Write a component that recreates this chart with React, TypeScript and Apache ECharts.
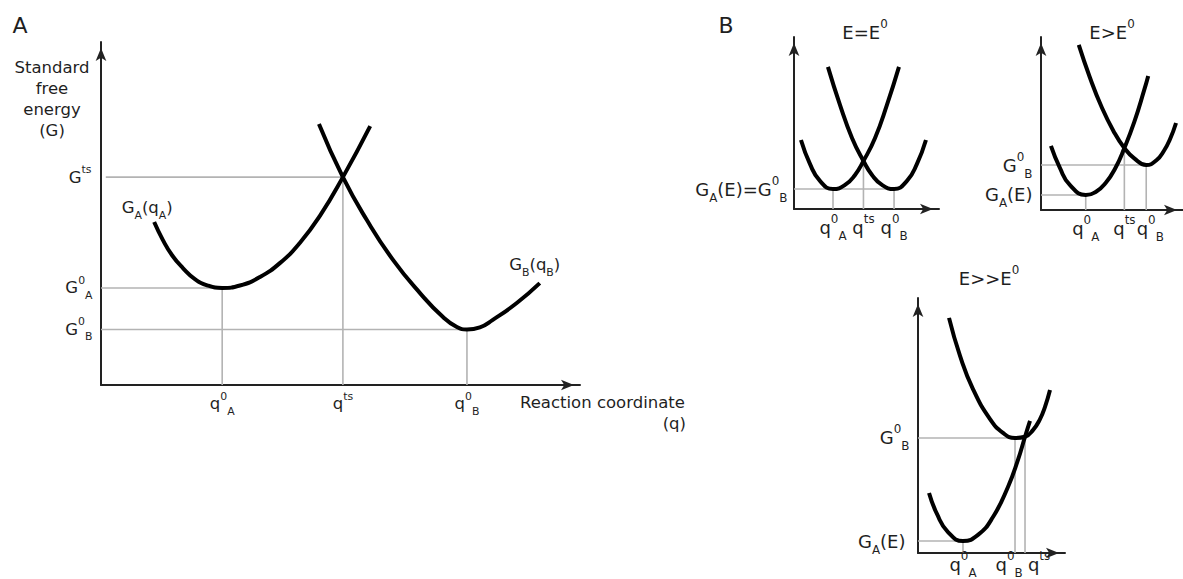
import React, { useEffect, useRef } from "react";
import * as echarts from "echarts";

type Pt = [number, number];

const FONT = "DejaVu Sans";
const INK = "#1f1f1f";
const CURVE = "#000000";
const GUIDE = "#b3b3b3";
const AXIS = "#222222";

// ---------- Panel A: reaction coordinate q (0–100) vs standard free energy G (0–100)
const aCurveA: Pt[] = [[11.1, 47.5], [12.9, 42.3], [14.8, 37.9], [17.1, 34.1], [19.6, 30.9], [22.3, 29.0], [25.3, 28.3], [29.0, 29.0], [33.2, 31.5], [37.4, 35.6], [41.5, 41.4], [45.7, 49.3], [50.5, 60.6], [56.2, 75.5]];
const aCurveB: Pt[] = [[45.5, 76.1], [50.5, 60.6], [55.5, 48.1], [61.0, 36.4], [66.6, 26.8], [71.4, 19.8], [74.3, 16.9], [76.4, 16.2], [79.1, 16.8], [81.8, 19.0], [86.8, 23.9], [91.6, 29.7]];
const aQ = [25.3, 50.5, 76.4]; // q0A, qts, q0B
const aG = [28.3, 60.6, 16.2]; // G0A, Gts, G0B

// ---------- Panel B1: E = E0
const b1CurveA: Pt[] = [[4.8, 40.1], [11.0, 26.2], [17.9, 16.3], [26.9, 11.6], [35.2, 14.0], [42.1, 19.8], [47.9, 27.9], [55.9, 41.3], [64.1, 60.5], [72.4, 82.6]];
const b1CurveB: Pt[] = [[23.4, 82.6], [31.7, 60.5], [40.0, 41.3], [47.9, 27.9], [53.8, 19.8], [60.7, 14.0], [69.0, 11.6], [77.9, 16.3], [84.8, 26.2], [91.0, 40.1]];
const b1Q = [26.9, 47.9, 69.0]; // q0A, qts, q0B
const b1G = [11.6, 27.9]; // GA(E)=G0B, crossing

// ---------- Panel B2: E > E0
const b2CurveA: Pt[] = [[7.0, 37.0], [13.3, 24.3], [20.3, 14.5], [31.5, 8.7], [38.5, 10.4], [45.5, 15.6], [52.4, 24.3], [58.7, 35.8], [65.7, 50.9], [72.7, 69.4], [75.5, 77.5]];
const b2CurveB: Pt[] = [[26.6, 95.4], [34.3, 76.9], [42.7, 59.5], [51.0, 45.7], [58.7, 35.8], [65.7, 29.8], [74.1, 26.0], [81.1, 28.6], [86.7, 34.4], [90.9, 41.0], [95.1, 50.3]];
const b2Q = [31.5, 58.7, 74.1]; // q0A, qts, q0B
const b2G = [8.7, 26.0, 35.8]; // GA(E), G0B, crossing

// ---------- Panel B3: E >> E0
const b3CurveA: Pt[] = [[7.5, 23.5], [12.9, 15.3], [20.4, 8.2], [30.6, 4.7], [40.8, 7.1], [51.0, 14.1], [61.2, 25.9], [68.0, 36.5], [72.8, 45.6], [76.2, 51.8]];
const b3CurveB: Pt[] = [[21.1, 92.2], [28.6, 77.3], [37.4, 64.3], [49.0, 52.5], [57.8, 47.1], [66.0, 45.1], [72.8, 45.6], [78.2, 48.2], [83.0, 52.5], [86.4, 57.3], [89.8, 63.9]];
const b3Q = [30.6, 66.0, 72.8]; // q0A, q0B, qts
const b3G = [4.7, 45.1, 45.6]; // GA(E), G0B, crossing

// rich-text styles: main glyphs plus raised (superscript) and lowered (subscript) tokens
const richFor = (s: number) => {
  const L = Math.round(s * 1.6);
  const small = Math.round(s * 0.66 * 10) / 10;
  return {
    m: { fontSize: s, fontFamily: FONT, color: INK, lineHeight: L },
    sup: { fontSize: small, fontFamily: FONT, color: INK, lineHeight: L - 5, verticalAlign: "top" },
    sub: { fontSize: small, fontFamily: FONT, color: INK, lineHeight: L - 13, verticalAlign: "bottom" },
  };
};
const richA = richFor(16.5);
const richB = richFor(18);

type Lbl = { at: Pt; text: string; position: string; distance: number; offset?: [number, number] };

function buildOption() {
  const grids = [
    { left: 101, top: 42, width: 479, height: 343 },
    { left: 794, top: 37, width: 145, height: 172 },
    { left: 1041, top: 37, width: 143, height: 173 },
    { left: 918, top: 298, width: 147, height: 255 },
  ];
  const axisBase = {
    type: "value",
    min: 0,
    max: 100,
    axisLine: {
      show: true,
      onZero: false,
      symbol: ["none", "arrow"],
      symbolSize: [8, 13],
      symbolOffset: [0, -6],
      lineStyle: { color: AXIS, width: 2 },
    },
    axisTick: { show: false },
    axisLabel: { show: false },
    splitLine: { show: false },
  };
  const xAxis = grids.map((_, i) => ({ ...axisBase, gridIndex: i }));
  const yAxis = grids.map((_, i) => ({ ...axisBase, gridIndex: i }));

  const series: any[] = [];
  const addPanel = (idx: number, curves: Pt[][], guides: [Pt, Pt][], labels: Lbl[], rich: any) => {
    guides.forEach((g) => {
      series.push({
        type: "line",
        xAxisIndex: idx,
        yAxisIndex: idx,
        data: g,
        showSymbol: false,
        silent: true,
        z: 1,
        lineStyle: { color: GUIDE, width: 1.6 },
      });
    });
    curves.forEach((c) => {
      series.push({
        type: "line",
        xAxisIndex: idx,
        yAxisIndex: idx,
        data: c,
        smooth: 0.5,
        showSymbol: false,
        silent: true,
        z: 3,
        lineStyle: { color: CURVE, width: 4 },
      });
    });
    series.push({
      type: "scatter",
      xAxisIndex: idx,
      yAxisIndex: idx,
      symbolSize: 1,
      silent: true,
      z: 4,
      itemStyle: { color: "transparent", opacity: 1 },
      data: labels.map((l) => ({
        value: l.at,
        label: {
          show: true,
          position: l.position,
          distance: l.distance,
          offset: l.offset || [0, 0],
          color: INK,
          opacity: 1,
          formatter: () => l.text,
          rich,
        },
      })),
    });
  };

  // Panel A
  addPanel(
    0,
    [aCurveA, aCurveB],
    [
      [[1, aG[1]], [aQ[1], aG[1]]],
      [[aQ[1], 0], [aQ[1], aG[1]]],
      [[0, aG[0]], [aQ[0], aG[0]]],
      [[aQ[0], 0], [aQ[0], aG[0]]],
      [[0, aG[2]], [aQ[2], aG[2]]],
      [[aQ[2], 0], [aQ[2], aG[2]]],
    ],
    [
      { at: [aQ[0], 0], text: "{m|q}{sup|0}{sub|A}", position: "bottom", distance: 5 },
      { at: [aQ[1], 0], text: "{m|q}{sup|ts}", position: "bottom", distance: 5 },
      { at: [aQ[2], 0], text: "{m|q}{sup|0}{sub|B}", position: "bottom", distance: 5 },
      { at: [0, aG[1]], text: "{m|G}{sup|ts}", position: "left", distance: 9 },
      { at: [0, aG[0]], text: "{m|G}{sup|0}{sub|A}", position: "left", distance: 8 },
      { at: [0, aG[2]], text: "{m|G}{sup|0}{sub|B}", position: "left", distance: 8 },
      { at: aCurveA[0], text: "{m|G}{sub|A}{m|(q}{sub|A}{m|)}", position: "top", distance: 1, offset: [-7, 0] },
      { at: aCurveB[aCurveB.length - 1], text: "{m|G}{sub|B}{m|(q}{sub|B}{m|)}", position: "top", distance: 5, offset: [-5, 0] },
    ],
    richA
  );

  // Panel B1
  addPanel(
    1,
    [b1CurveA, b1CurveB],
    [
      [[0, b1G[0]], [b1Q[2], b1G[0]]],
      [[b1Q[0], 0], [b1Q[0], b1G[0]]],
      [[b1Q[1], 0], [b1Q[1], b1G[1]]],
      [[b1Q[2], 0], [b1Q[2], b1G[0]]],
    ],
    [
      { at: [b1Q[0], 0], text: "{m|q}{sup|0}{sub|A}", position: "bottom", distance: 3 },
      { at: [b1Q[1], 0], text: "{m|q}{sup|ts}", position: "bottom", distance: 3 },
      { at: [b1Q[2], 0], text: "{m|q}{sup|0}{sub|B}", position: "bottom", distance: 3 },
      { at: [0, b1G[0]], text: "{m|G}{sub|A}{m|(E)=G}{sup|0}{sub|B}", position: "left", distance: 6 },
    ],
    richB
  );

  // Panel B2
  addPanel(
    2,
    [b2CurveA, b2CurveB],
    [
      [[0, b2G[1]], [b2Q[2], b2G[1]]],
      [[b2Q[2], 0], [b2Q[2], b2G[1]]],
      [[0, b2G[0]], [b2Q[0], b2G[0]]],
      [[b2Q[0], 0], [b2Q[0], b2G[0]]],
      [[b2Q[1], 0], [b2Q[1], b2G[2]]],
    ],
    [
      { at: [b2Q[0], 0], text: "{m|q}{sup|0}{sub|A}", position: "bottom", distance: 3 },
      { at: [b2Q[1], 0], text: "{m|q}{sup|ts}", position: "bottom", distance: 3 },
      { at: [b2Q[2], 0], text: "{m|q}{sup|0}{sub|B}", position: "bottom", distance: 3, offset: [4, 0] },
      { at: [0, b2G[1]], text: "{m|G}{sup|0}{sub|B}", position: "left", distance: 8 },
      { at: [0, b2G[0]], text: "{m|G}{sub|A}{m|(E)}", position: "left", distance: 8 },
    ],
    richB
  );

  // Panel B3
  addPanel(
    3,
    [b3CurveA, b3CurveB],
    [
      [[0, b3G[1]], [b3Q[2], b3G[1]]],
      [[b3Q[1], 0], [b3Q[1], b3G[1]]],
      [[b3Q[2], 0], [b3Q[2], b3G[2]]],
      [[0, b3G[0]], [b3Q[0], b3G[0]]],
      [[b3Q[0], 0], [b3Q[0], b3G[0]]],
    ],
    [
      { at: [b3Q[0], 0], text: "{m|q}{sup|0}{sub|A}", position: "bottom", distance: -4 },
      { at: [b3Q[1], 0], text: "{m|q}{sup|0}{sub|B}", position: "bottom", distance: -4, offset: [-6, 0] },
      { at: [b3Q[2], 0], text: "{m|q}{sup|ts}", position: "bottom", distance: -4, offset: [14, 0] },
      { at: [0, b3G[1]], text: "{m|G}{sup|0}{sub|B}", position: "left", distance: 8 },
      { at: [0, b3G[0]], text: "{m|G}{sub|A}{m|(E)}", position: "left", distance: 12 },
    ],
    richB
  );

  const plain = (text: string, x: number, y: number, size: number, align = "center", extra: any = {}) => ({
    type: "text",
    x,
    y,
    silent: true,
    style: {
      text,
      fontSize: size,
      fontFamily: FONT,
      fill: INK,
      align,
      verticalAlign: "middle",
      ...extra,
    },
  });
  const richText = (text: string, x: number, y: number, rich: any) => ({
    type: "text",
    x,
    y,
    silent: true,
    style: { text, rich, align: "center", verticalAlign: "middle", fill: INK },
  });

  const graphic = [
    plain("A", 20, 25, 22),
    plain("B", 726, 25, 22),
    plain("Standard\nfree\nenergy\n(G)", 52, 99, 16.5, "center", { lineHeight: 20.7 }),
    plain("Reaction coordinate", 520, 402, 16.5, "left"),
    plain("(q)", 686, 423, 16.5, "right"),
    richText("{m|E=E}{sup|0}", 865, 32, richB),
    richText("{m|E>E}{sup|0}", 1112, 32, richB),
    richText("{m|E>>E}{sup|0}", 989, 278, richB),
  ];

  return {
    animation: false,
    backgroundColor: "#ffffff",
    grid: grids.map((g) => ({ ...g, containLabel: false })),
    xAxis,
    yAxis,
    series,
    graphic,
  };
}

export default function App() {
  const ref = useRef<HTMLDivElement>(null);
  useEffect(() => {
    if (!ref.current) return;
    const chart = echarts.init(ref.current, undefined, { renderer: "svg" });
    chart.setOption(buildOption() as any);
    return () => chart.dispose();
  }, []);
  return (
    <div
      ref={ref}
      style={{ position: "fixed", left: 0, top: 0, width: 1183, height: 579, background: "#fff" }}
    />
  );
}
